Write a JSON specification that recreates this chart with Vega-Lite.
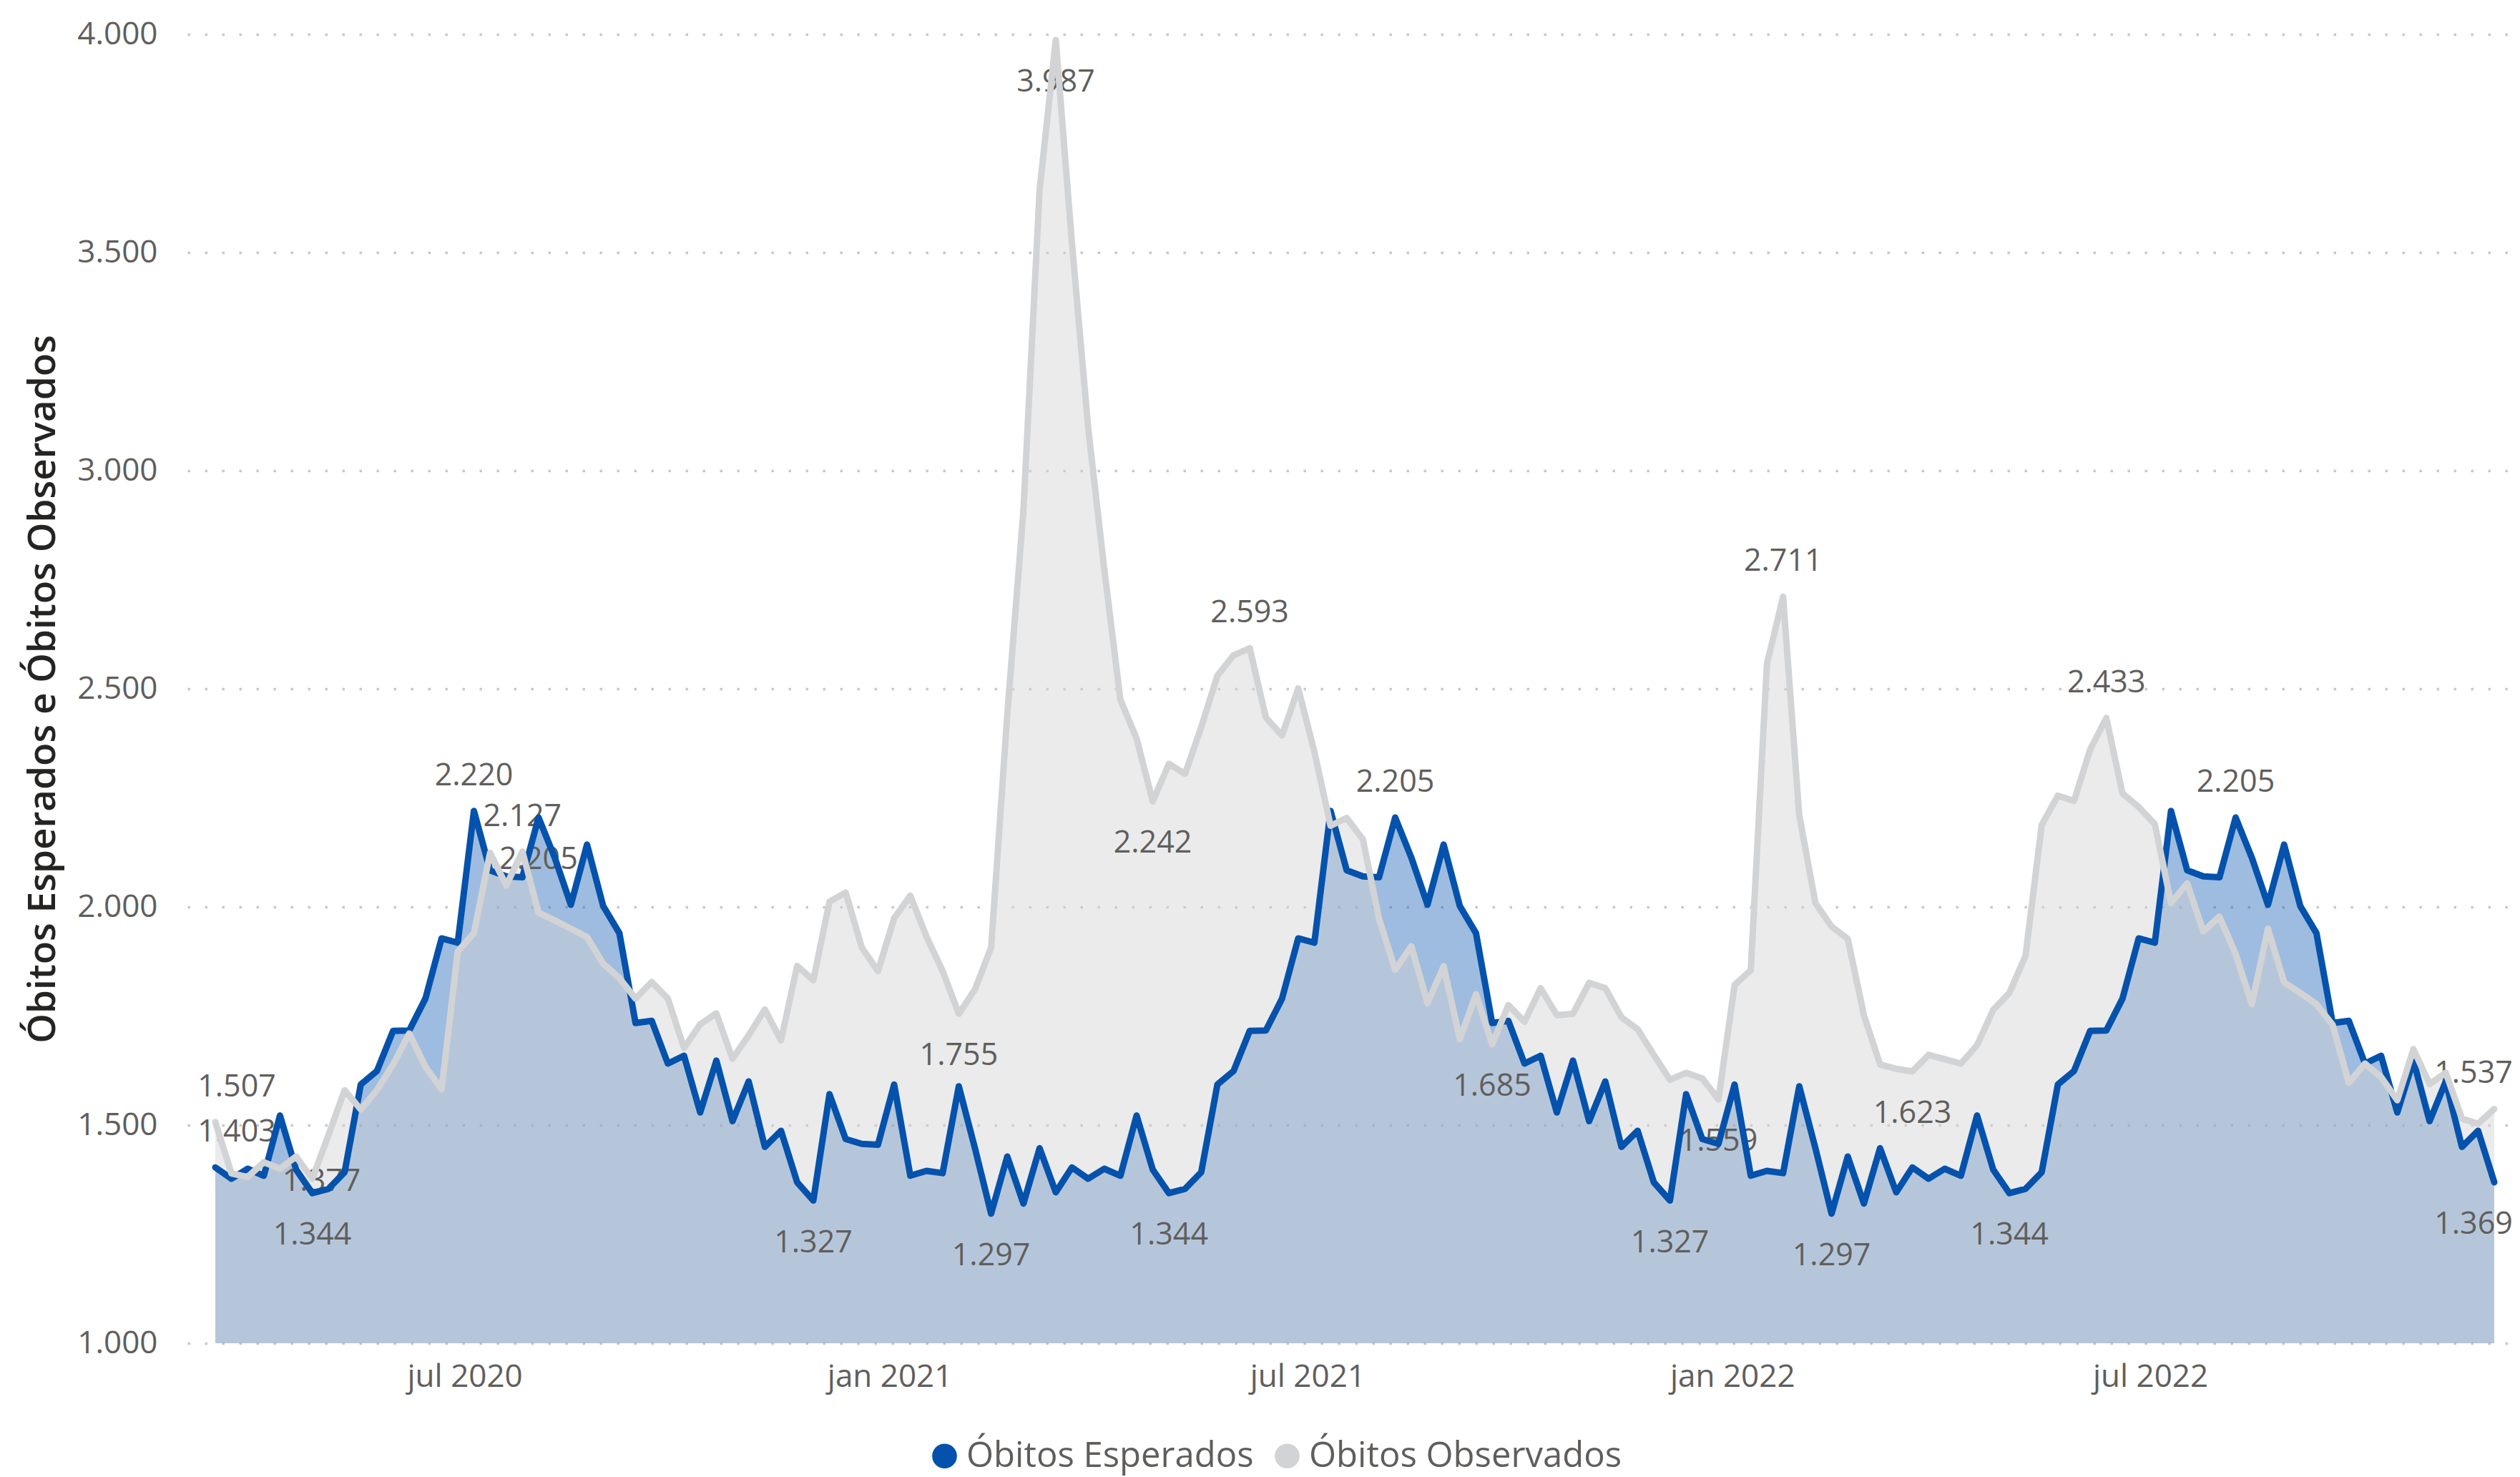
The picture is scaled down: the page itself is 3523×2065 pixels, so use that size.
{
  "$schema": "https://vega.github.io/schema/vega-lite/v6.json",
  "width": 3248,
  "height": 1830,
  "autosize": {"type": "none"},
  "padding": {"left": 262, "top": 48, "right": 13, "bottom": 187},
  "background": "white",
  "config": {
    "locale": {
      "number": {"decimal": ",", "thousands": ".", "grouping": [3], "currency": ["R$", ""]},
      "time": {
        "dateTime": "%A, %e de %B de %Y. %X",
        "date": "%d/%m/%Y",
        "time": "%H:%M:%S",
        "periods": ["AM", "PM"],
        "days": ["Domingo", "Segunda", "Terça", "Quarta", "Quinta", "Sexta", "Sábado"],
        "shortDays": ["Dom", "Seg", "Ter", "Qua", "Qui", "Sex", "Sáb"],
        "months": ["janeiro", "fevereiro", "março", "abril", "maio", "junho", "julho", "agosto", "setembro", "outubro", "novembro", "dezembro"],
        "shortMonths": ["jan", "fev", "mar", "abr", "mai", "jun", "jul", "ago", "set", "out", "nov", "dez"]
      }
    },
    "font": "Open Sans",
    "view": {"stroke": null},
    "axis": {
      "labelFont": "Open Sans",
      "labelColor": "#605E5C",
      "labelFontSize": 44,
      "ticks": false,
      "domain": false,
      "titleFont": "Open Sans"
    },
    "text": {"font": "Open Sans", "fontSize": 43, "color": "#605E5C", "baseline": "middle", "align": "center"}
  },
  "data": {
    "format": {"parse": {"semana": "date:'%Y-%m-%d'"}},
    "values": [
      {"semana": "2020-03-15", "esperados": 1403, "observados": 1507},
      {"semana": "2020-03-22", "esperados": 1377, "observados": 1389},
      {"semana": "2020-03-29", "esperados": 1400, "observados": 1381},
      {"semana": "2020-04-05", "esperados": 1384, "observados": 1415},
      {"semana": "2020-04-12", "esperados": 1522, "observados": 1400},
      {"semana": "2020-04-19", "esperados": 1398, "observados": 1428},
      {"semana": "2020-04-26", "esperados": 1344, "observados": 1377},
      {"semana": "2020-05-03", "esperados": 1354, "observados": 1477},
      {"semana": "2020-05-10", "esperados": 1392, "observados": 1580},
      {"semana": "2020-05-17", "esperados": 1593, "observados": 1536},
      {"semana": "2020-05-24", "esperados": 1624, "observados": 1580},
      {"semana": "2020-05-31", "esperados": 1716, "observados": 1639},
      {"semana": "2020-06-07", "esperados": 1717, "observados": 1710},
      {"semana": "2020-06-14", "esperados": 1790, "observados": 1634},
      {"semana": "2020-06-21", "esperados": 1928, "observados": 1582},
      {"semana": "2020-06-28", "esperados": 1918, "observados": 1898},
      {"semana": "2020-07-05", "esperados": 2220, "observados": 1940},
      {"semana": "2020-07-12", "esperados": 2084, "observados": 2124},
      {"semana": "2020-07-19", "esperados": 2070, "observados": 2049},
      {"semana": "2020-07-26", "esperados": 2068, "observados": 2127},
      {"semana": "2020-08-02", "esperados": 2205, "observados": 1987},
      {"semana": "2020-08-09", "esperados": 2113, "observados": 1969},
      {"semana": "2020-08-16", "esperados": 2005, "observados": 1950},
      {"semana": "2020-08-23", "esperados": 2143, "observados": 1931},
      {"semana": "2020-08-30", "esperados": 2002, "observados": 1870},
      {"semana": "2020-09-06", "esperados": 1940, "observados": 1837},
      {"semana": "2020-09-13", "esperados": 1734, "observados": 1790},
      {"semana": "2020-09-20", "esperados": 1739, "observados": 1828},
      {"semana": "2020-09-27", "esperados": 1641, "observados": 1790},
      {"semana": "2020-10-04", "esperados": 1659, "observados": 1677},
      {"semana": "2020-10-11", "esperados": 1529, "observados": 1731},
      {"semana": "2020-10-18", "esperados": 1648, "observados": 1756},
      {"semana": "2020-10-25", "esperados": 1509, "observados": 1652},
      {"semana": "2020-11-01", "esperados": 1600, "observados": 1706},
      {"semana": "2020-11-08", "esperados": 1450, "observados": 1765},
      {"semana": "2020-11-15", "esperados": 1487, "observados": 1694},
      {"semana": "2020-11-22", "esperados": 1369, "observados": 1865},
      {"semana": "2020-11-29", "esperados": 1327, "observados": 1832},
      {"semana": "2020-12-06", "esperados": 1571, "observados": 2012},
      {"semana": "2020-12-13", "esperados": 1468, "observados": 2033},
      {"semana": "2020-12-20", "esperados": 1457, "observados": 1907},
      {"semana": "2020-12-27", "esperados": 1455, "observados": 1853},
      {"semana": "2021-01-03", "esperados": 1593, "observados": 1974},
      {"semana": "2021-01-10", "esperados": 1384, "observados": 2026},
      {"semana": "2021-01-17", "esperados": 1395, "observados": 1932},
      {"semana": "2021-01-24", "esperados": 1390, "observados": 1853},
      {"semana": "2021-01-31", "esperados": 1589, "observados": 1755},
      {"semana": "2021-02-07", "esperados": 1447, "observados": 1811},
      {"semana": "2021-02-14", "esperados": 1297, "observados": 1907},
      {"semana": "2021-02-21", "esperados": 1428, "observados": 2441},
      {"semana": "2021-02-28", "esperados": 1320, "observados": 2910},
      {"semana": "2021-03-07", "esperados": 1447, "observados": 3644},
      {"semana": "2021-03-14", "esperados": 1346, "observados": 3987},
      {"semana": "2021-03-21", "esperados": 1403, "observados": 3522},
      {"semana": "2021-03-28", "esperados": 1377, "observados": 3100},
      {"semana": "2021-04-04", "esperados": 1400, "observados": 2774},
      {"semana": "2021-04-11", "esperados": 1384, "observados": 2475},
      {"semana": "2021-04-18", "esperados": 1522, "observados": 2386},
      {"semana": "2021-04-25", "esperados": 1398, "observados": 2242},
      {"semana": "2021-05-02", "esperados": 1344, "observados": 2328},
      {"semana": "2021-05-09", "esperados": 1354, "observados": 2305},
      {"semana": "2021-05-16", "esperados": 1392, "observados": 2412},
      {"semana": "2021-05-23", "esperados": 1593, "observados": 2530},
      {"semana": "2021-05-30", "esperados": 1624, "observados": 2577},
      {"semana": "2021-06-06", "esperados": 1716, "observados": 2593},
      {"semana": "2021-06-13", "esperados": 1717, "observados": 2434},
      {"semana": "2021-06-20", "esperados": 1790, "observados": 2393},
      {"semana": "2021-06-27", "esperados": 1928, "observados": 2501},
      {"semana": "2021-07-04", "esperados": 1918, "observados": 2356},
      {"semana": "2021-07-11", "esperados": 2220, "observados": 2186},
      {"semana": "2021-07-18", "esperados": 2084, "observados": 2204},
      {"semana": "2021-07-25", "esperados": 2070, "observados": 2155},
      {"semana": "2021-08-01", "esperados": 2068, "observados": 1973},
      {"semana": "2021-08-08", "esperados": 2205, "observados": 1856},
      {"semana": "2021-08-15", "esperados": 2113, "observados": 1910},
      {"semana": "2021-08-22", "esperados": 2005, "observados": 1780},
      {"semana": "2021-08-29", "esperados": 2143, "observados": 1864},
      {"semana": "2021-09-05", "esperados": 2002, "observados": 1697},
      {"semana": "2021-09-12", "esperados": 1940, "observados": 1800},
      {"semana": "2021-09-19", "esperados": 1734, "observados": 1685},
      {"semana": "2021-09-26", "esperados": 1739, "observados": 1775},
      {"semana": "2021-10-03", "esperados": 1641, "observados": 1737},
      {"semana": "2021-10-10", "esperados": 1659, "observados": 1814},
      {"semana": "2021-10-17", "esperados": 1529, "observados": 1752},
      {"semana": "2021-10-24", "esperados": 1648, "observados": 1755},
      {"semana": "2021-10-31", "esperados": 1509, "observados": 1826},
      {"semana": "2021-11-07", "esperados": 1600, "observados": 1814},
      {"semana": "2021-11-14", "esperados": 1450, "observados": 1747},
      {"semana": "2021-11-21", "esperados": 1487, "observados": 1720},
      {"semana": "2021-11-28", "esperados": 1369, "observados": 1661},
      {"semana": "2021-12-05", "esperados": 1327, "observados": 1604},
      {"semana": "2021-12-12", "esperados": 1571, "observados": 1620},
      {"semana": "2021-12-19", "esperados": 1468, "observados": 1607},
      {"semana": "2021-12-26", "esperados": 1457, "observados": 1559},
      {"semana": "2022-01-02", "esperados": 1593, "observados": 1821},
      {"semana": "2022-01-09", "esperados": 1384, "observados": 1855},
      {"semana": "2022-01-16", "esperados": 1395, "observados": 2557},
      {"semana": "2022-01-23", "esperados": 1390, "observados": 2711},
      {"semana": "2022-01-30", "esperados": 1589, "observados": 2210},
      {"semana": "2022-02-06", "esperados": 1447, "observados": 2009},
      {"semana": "2022-02-13", "esperados": 1297, "observados": 1955},
      {"semana": "2022-02-20", "esperados": 1428, "observados": 1927},
      {"semana": "2022-02-27", "esperados": 1320, "observados": 1752},
      {"semana": "2022-03-06", "esperados": 1447, "observados": 1639},
      {"semana": "2022-03-13", "esperados": 1346, "observados": 1629},
      {"semana": "2022-03-20", "esperados": 1403, "observados": 1623},
      {"semana": "2022-03-27", "esperados": 1377, "observados": 1661},
      {"semana": "2022-04-03", "esperados": 1400, "observados": 1651},
      {"semana": "2022-04-10", "esperados": 1384, "observados": 1641},
      {"semana": "2022-04-17", "esperados": 1522, "observados": 1683},
      {"semana": "2022-04-24", "esperados": 1398, "observados": 1764},
      {"semana": "2022-05-01", "esperados": 1344, "observados": 1803},
      {"semana": "2022-05-08", "esperados": 1354, "observados": 1888},
      {"semana": "2022-05-15", "esperados": 1392, "observados": 2188},
      {"semana": "2022-05-22", "esperados": 1593, "observados": 2255},
      {"semana": "2022-05-29", "esperados": 1624, "observados": 2243},
      {"semana": "2022-06-05", "esperados": 1716, "observados": 2361},
      {"semana": "2022-06-12", "esperados": 1717, "observados": 2433},
      {"semana": "2022-06-19", "esperados": 1790, "observados": 2260},
      {"semana": "2022-06-26", "esperados": 1928, "observados": 2229},
      {"semana": "2022-07-03", "esperados": 1918, "observados": 2190},
      {"semana": "2022-07-10", "esperados": 2220, "observados": 2009},
      {"semana": "2022-07-17", "esperados": 2084, "observados": 2054},
      {"semana": "2022-07-24", "esperados": 2070, "observados": 1944},
      {"semana": "2022-07-31", "esperados": 2068, "observados": 1978},
      {"semana": "2022-08-07", "esperados": 2205, "observados": 1892},
      {"semana": "2022-08-14", "esperados": 2113, "observados": 1777},
      {"semana": "2022-08-21", "esperados": 2005, "observados": 1950},
      {"semana": "2022-08-28", "esperados": 2143, "observados": 1827},
      {"semana": "2022-09-04", "esperados": 2002, "observados": 1803},
      {"semana": "2022-09-11", "esperados": 1940, "observados": 1777},
      {"semana": "2022-09-18", "esperados": 1734, "observados": 1730},
      {"semana": "2022-09-25", "esperados": 1739, "observados": 1597},
      {"semana": "2022-10-02", "esperados": 1641, "observados": 1641},
      {"semana": "2022-10-09", "esperados": 1659, "observados": 1610},
      {"semana": "2022-10-16", "esperados": 1529, "observados": 1557},
      {"semana": "2022-10-23", "esperados": 1648, "observados": 1674},
      {"semana": "2022-10-30", "esperados": 1509, "observados": 1594},
      {"semana": "2022-11-06", "esperados": 1600, "observados": 1620},
      {"semana": "2022-11-13", "esperados": 1450, "observados": 1515},
      {"semana": "2022-11-20", "esperados": 1487, "observados": 1503},
      {"semana": "2022-11-27", "esperados": 1369, "observados": 1537}
    ]
  },
  "transform": [
    {"fold": ["esperados", "observados"], "as": ["serie", "obitos"]},
    {"calculate": "datum.serie + ' ' + timeFormat(datum.semana, '%Y-%m-%d')", "as": "chave"}
  ],
  "encoding": {
    "x": {
      "field": "semana",
      "type": "temporal",
      "scale": {
        "domain": [
          {"year": 2020, "month": 3, "date": 2, "hours": 22},
          {"year": 2022, "month": 12, "date": 4, "hours": 3}
        ]
      },
      "axis": {
        "values": [
          {"year": 2020, "month": 7, "date": 1},
          {"year": 2021, "month": 1, "date": 1},
          {"year": 2021, "month": 7, "date": 1},
          {"year": 2022, "month": 1, "date": 1},
          {"year": 2022, "month": 7, "date": 1}
        ],
        "format": "%b %Y",
        "labelPadding": 25,
        "grid": false,
        "title": null
      }
    },
    "y": {
      "field": "obitos",
      "type": "quantitative",
      "scale": {"domain": [1000, 4000], "nice": false, "zero": false},
      "axis": {
        "values": [1000, 1500, 2000, 2500, 3000, 3500, 4000],
        "format": ",d",
        "labelPadding": 42,
        "grid": true,
        "gridDash": [3.5, 20.5],
        "gridColor": "#C8C8C8",
        "gridWidth": 3.5,
        "title": "Óbitos Esperados e Óbitos Observados",
        "titleFontSize": 53,
        "titleFontWeight": 600,
        "titleColor": "#252423",
        "titlePadding": 20
      }
    }
  },
  "layer": [
    {
      "transform": [{"filter": "datum.serie === 'esperados'"}],
      "mark": {"type": "area", "opacity": 0.39},
      "encoding": {
        "y2": {"datum": 1000},
        "color": {
          "datum": "Óbitos Esperados",
          "scale": {
            "domain": ["Óbitos Esperados", "Óbitos Observados"],
            "range": ["#0452AC", "#D2D3D5"]
          },
          "legend": {
            "orient": "none",
            "legendX": 1034,
            "legendY": 1963,
            "direction": "horizontal",
            "title": null,
            "labelFont": "Open Sans",
            "labelFontSize": 49,
            "labelColor": "#605E5C",
            "labelLimit": 2000,
            "symbolType": "circle",
            "symbolSize": 1200,
            "symbolOpacity": 1,
            "symbolStrokeWidth": 0,
            "labelOffset": 6,
            "columnPadding": 22,
            "padding": 0,
            "encode": {
              "symbols": {"update": {"opacity": {"value": 1}, "fillOpacity": {"value": 1}}}
            }
          }
        }
      }
    },
    {
      "transform": [{"filter": "datum.serie === 'observados'"}],
      "mark": {"type": "area", "opacity": 0.45},
      "encoding": {
        "y2": {"datum": 1000},
        "color": {"datum": "Óbitos Observados"}
      }
    },
    {
      "transform": [{"filter": "indexof(['observados 2020-07-26','observados 2021-06-06','observados 2022-01-23','observados 2022-06-12','esperados 2020-07-05','esperados 2021-08-08','esperados 2022-08-07'], datum.chave) >= 0"}],
      "mark": {"type": "text", "dy": -49},
      "encoding": {"text": {"field": "obitos", "type": "quantitative", "format": ",d"}}
    },
    {
      "transform": [{"filter": "indexof(['esperados 2020-04-26','esperados 2020-08-02','esperados 2020-11-29','esperados 2021-02-14','esperados 2021-05-02','esperados 2021-12-05','esperados 2022-02-13','esperados 2022-05-01','observados 2021-01-31','observados 2021-03-14','observados 2021-04-25','observados 2021-09-19','observados 2021-12-26','observados 2022-03-20'], datum.chave) >= 0"}],
      "mark": {"type": "text", "dy": 59},
      "encoding": {"text": {"field": "obitos", "type": "quantitative", "format": ",d"}}
    },
    {
      "transform": [{"filter": "datum.chave === 'observados 2020-04-26'"}],
      "mark": {"type": "text", "dx": 13, "dy": 4},
      "encoding": {"text": {"field": "obitos", "type": "quantitative", "format": ",d"}}
    },
    {
      "transform": [{"filter": "datum.chave === 'esperados 2020-03-15' || datum.chave === 'observados 2020-03-15'"}],
      "mark": {"type": "text", "dx": 30, "dy": -49},
      "encoding": {"text": {"field": "obitos", "type": "quantitative", "format": ",d"}}
    },
    {
      "transform": [{"filter": "datum.chave === 'observados 2022-11-27'"}],
      "mark": {"type": "text", "dx": -29, "dy": -49},
      "encoding": {"text": {"field": "obitos", "type": "quantitative", "format": ",d"}}
    },
    {
      "transform": [{"filter": "datum.chave === 'esperados 2022-11-27'"}],
      "mark": {"type": "text", "dx": -29, "dy": 59},
      "encoding": {"text": {"field": "obitos", "type": "quantitative", "format": ",d"}}
    },
    {
      "transform": [{"filter": "datum.serie === 'esperados'"}],
      "mark": {"type": "line", "color": "#0452AC", "strokeWidth": 9, "strokeJoin": "round", "strokeCap": "round"},
      "encoding": {}
    },
    {
      "transform": [{"filter": "datum.serie === 'observados'"}],
      "mark": {"type": "line", "color": "#D2D3D5", "strokeWidth": 9, "strokeJoin": "round", "strokeCap": "round"},
      "encoding": {}
    }
  ]
}
